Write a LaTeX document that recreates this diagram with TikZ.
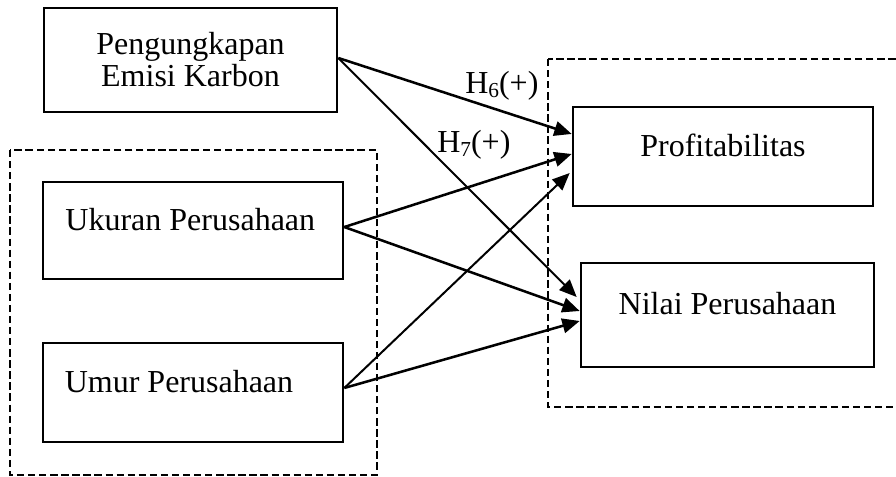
\documentclass[tikz,border=0pt]{standalone}
\usepackage{fontspec}
\setmainfont{Liberation Serif}
\usetikzlibrary{arrows.meta}
\newcommand\hsub[1]{{\fontsize{16pt}{16pt}\selectfont\raisebox{-2.5pt}{#1}}}
\begin{document}
\begin{tikzpicture}[x=0.75pt,y=-0.75pt,
  varbox/.style={draw, line width=2pt, inner sep=0pt, text height=8pt, text depth=8pt,
    font=\fontsize{24pt}{24pt}\selectfont},
  groupbox/.style={draw, line width=1.6pt, dash pattern=on 5.5pt off 2.8pt},
  link/.style={line width=1.9pt, -{Triangle[length=13pt,width=11pt]}},
  thinlink/.style={line width=1.5pt, -{Triangle[length=13pt,width=11pt]}},
  hyp/.style={inner sep=0pt, anchor=base west, font=\fontsize{24pt}{24pt}\selectfont}]
\useasboundingbox (0,0) rectangle (896,477);
% group boxes
\draw[groupbox] (10,150) rectangle (377,475);
\draw[groupbox] (548,59) rectangle (905,407);
% variable boxes
\node[varbox, minimum width=219.75pt, minimum height=78pt, align=center, text height=, text depth=] (peng) at (190.5,60) {Pengungkapan\\Emisi Karbon};
\node[varbox, minimum width=225pt, minimum height=72.75pt] (ukur) at (193,230.5) {Ukuran Perusahaan\kern4pt};
\node[varbox, minimum width=225pt, minimum height=74.25pt] (umur) at (193,392.5) {Umur Perusahaan\kern21pt};
\node[varbox, minimum width=225pt, minimum height=74.25pt] (prof) at (723,156.5) {Profitabilitas};
\node[varbox, minimum width=219.75pt, minimum height=78pt] (nilai) at (727.5,315) {Nilai Perusahaan};
% connectors
\draw[link] ([yshift=1.5pt]peng.east) -- ([yshift=16.9pt]prof.west);
\draw[thinlink] ([yshift=1.5pt]peng.east) -- ([xshift=-2.25pt,yshift=13.5pt]nilai.west);
\draw[link] ([yshift=2.6pt]ukur.east) -- ([yshift=1.9pt]prof.west);
\draw[link] ([yshift=2.6pt]ukur.east) -- ([yshift=3pt]nilai.west);
\draw[thinlink] ([yshift=3.4pt]umur.east) -- ([xshift=-1.5pt,yshift=-12.4pt]prof.west);
\draw[link] ([yshift=3.4pt]umur.east) -- ([yshift=-4.5pt]nilai.west);
% hypothesis labels
\node[hyp] (h6) at (465,94) {H\hsub{6}(+)};
\node[hyp] (h7) at (437,153) {H\hsub{7}(+)};
\end{tikzpicture}
\end{document}
